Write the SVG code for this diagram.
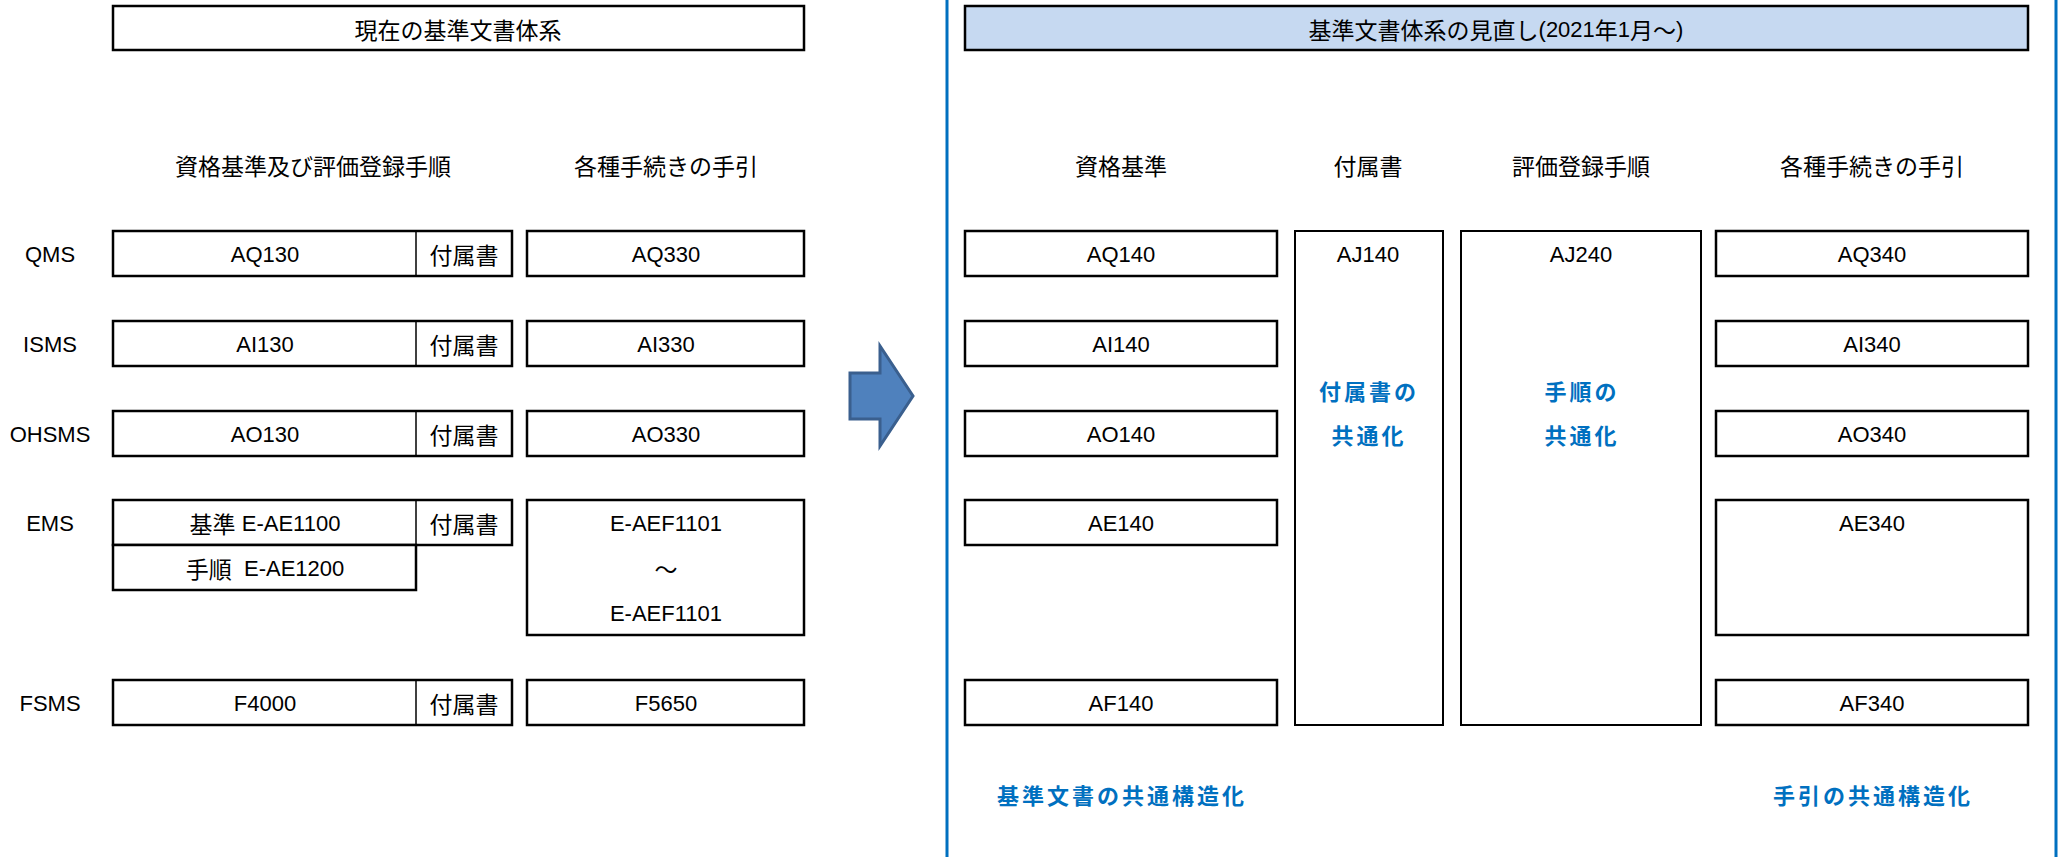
<svg xmlns="http://www.w3.org/2000/svg" width="2071" height="857" viewBox="0 0 2071 857">
<style>
.bg{fill:#ffffff}
.box{fill:#ffffff;stroke:#000000;stroke-width:2.5}
.thin{fill:#ffffff;stroke:#000000;stroke-width:2}
.div{stroke:#000000;stroke-width:1.5}
.ttl{fill:#C6D9F1;stroke:#000000;stroke-width:2.5}
.vline{stroke:#0070C0;stroke-width:3}
text{font-family:"Liberation Sans","Noto Sans CJK JP",sans-serif;font-size:22px;fill:#000000;text-anchor:middle;dominant-baseline:central}
.j{font-family:"Noto Sans CJK JP",sans-serif;font-size:23px}
.b{font-family:"Noto Sans CJK JP",sans-serif;font-size:22px;font-weight:bold;fill:#0070C0;letter-spacing:3px}
.arrow{fill:#4F81BD;stroke:#3A5F8E;stroke-width:3;stroke-linejoin:miter}
</style>
<rect class="bg" x="0" y="0" width="2071" height="857"/>

<g id="connectors">
  <line class="vline" x1="947" y1="0" x2="947" y2="857"/>
  <line class="vline" x1="2056" y1="0" x2="2056" y2="857"/>
  <polygon class="arrow" points="850,373 880,373 880,346 913,396 880,446 880,419 850,419"/>
</g>

<!-- Left: current system -->
<g id="left-title">
  <rect class="box" x="113" y="6" width="691" height="44"/>
  <text class="j" x="458" y="29">現在の基準文書体系</text>
</g>
<g id="left-headers">
  <text class="j" x="313" y="165">資格基準及び評価登録手順</text>
  <text class="j" x="666" y="165">各種手続きの手引</text>
</g>

<g id="row-qms">
  <text x="50" y="254">QMS</text>
  <rect class="box" x="113" y="231" width="399" height="45"/>
  <line class="div" x1="416" y1="231" x2="416" y2="276"/>
  <text x="265" y="254">AQ130</text>
  <text class="j" x="464" y="254">付属書</text>
  <rect class="box" x="527" y="231" width="277" height="45"/>
  <text x="666" y="254">AQ330</text>
</g>
<g id="row-isms">
  <text x="50" y="344">ISMS</text>
  <rect class="box" x="113" y="321" width="399" height="45"/>
  <line class="div" x1="416" y1="321" x2="416" y2="366"/>
  <text x="265" y="344">AI130</text>
  <text class="j" x="464" y="344">付属書</text>
  <rect class="box" x="527" y="321" width="277" height="45"/>
  <text x="666" y="344">AI330</text>
</g>
<g id="row-ohsms">
  <text x="50" y="434">OHSMS</text>
  <rect class="box" x="113" y="411" width="399" height="45"/>
  <line class="div" x1="416" y1="411" x2="416" y2="456"/>
  <text x="265" y="434">AO130</text>
  <text class="j" x="464" y="434">付属書</text>
  <rect class="box" x="527" y="411" width="277" height="45"/>
  <text x="666" y="434">AO330</text>
</g>
<g id="row-ems">
  <text x="50" y="523">EMS</text>
  <rect class="box" x="113" y="500" width="399" height="45"/>
  <line class="div" x1="416" y1="500" x2="416" y2="545"/>
  <text x="265" y="523"><tspan class="j">基準</tspan> E-AE1100</text>
  <text class="j" x="464" y="523">付属書</text>
  <rect class="box" x="113" y="545" width="303" height="45"/>
  <text x="265" y="568"><tspan class="j">手順</tspan>&#160;&#160;E-AE1200</text>
  <rect class="box" x="527" y="500" width="277" height="135"/>
  <text x="666" y="523">E-AEF1101</text>
  <text class="j" x="666" y="568">～</text>
  <text x="666" y="613">E-AEF1101</text>
</g>
<g id="row-fsms">
  <text x="50" y="703">FSMS</text>
  <rect class="box" x="113" y="680" width="399" height="45"/>
  <line class="div" x1="416" y1="680" x2="416" y2="725"/>
  <text x="265" y="703">F4000</text>
  <text class="j" x="464" y="703">付属書</text>
  <rect class="box" x="527" y="680" width="277" height="45"/>
  <text x="666" y="703">F5650</text>
</g>

<!-- Right: revised system -->
<g id="right-title">
  <rect class="ttl" x="965" y="6" width="1063" height="44"/>
  <text x="1496" y="29"><tspan class="j">基準文書体系の見直し</tspan>(2021<tspan class="j">年</tspan>1<tspan class="j">月～</tspan>)</text>
</g>
<g id="right-headers">
  <text class="j" x="1121" y="165">資格基準</text>
  <text class="j" x="1368" y="165">付属書</text>
  <text class="j" x="1581" y="165">評価登録手順</text>
  <text class="j" x="1872" y="165">各種手続きの手引</text>
</g>

<g id="col-criteria">
  <rect class="box" x="965" y="231" width="312" height="45"/>
  <text x="1121" y="254">AQ140</text>
  <rect class="box" x="965" y="321" width="312" height="45"/>
  <text x="1121" y="344">AI140</text>
  <rect class="box" x="965" y="411" width="312" height="45"/>
  <text x="1121" y="434">AO140</text>
  <rect class="box" x="965" y="500" width="312" height="45"/>
  <text x="1121" y="523">AE140</text>
  <rect class="box" x="965" y="680" width="312" height="45"/>
  <text x="1121" y="703">AF140</text>
</g>
<g id="col-annex">
  <rect class="thin" x="1295" y="231" width="148" height="494"/>
  <text x="1368" y="254">AJ140</text>
  <text class="b" x="1369" y="390">付属書の</text>
  <text class="b" x="1369" y="434">共通化</text>
</g>
<g id="col-procedure">
  <rect class="thin" x="1461" y="231" width="240" height="494"/>
  <text x="1581" y="254">AJ240</text>
  <text class="b" x="1582" y="390">手順の</text>
  <text class="b" x="1582" y="434">共通化</text>
</g>
<g id="col-guide">
  <rect class="box" x="1716" y="231" width="312" height="45"/>
  <text x="1872" y="254">AQ340</text>
  <rect class="box" x="1716" y="321" width="312" height="45"/>
  <text x="1872" y="344">AI340</text>
  <rect class="box" x="1716" y="411" width="312" height="45"/>
  <text x="1872" y="434">AO340</text>
  <rect class="box" x="1716" y="500" width="312" height="135"/>
  <text x="1872" y="523">AE340</text>
  <rect class="box" x="1716" y="680" width="312" height="45"/>
  <text x="1872" y="703">AF340</text>
</g>
<g id="notes">
  <text class="b" x="1122" y="794">基準文書の共通構造化</text>
  <text class="b" x="1873" y="794">手引の共通構造化</text>
</g>
</svg>
